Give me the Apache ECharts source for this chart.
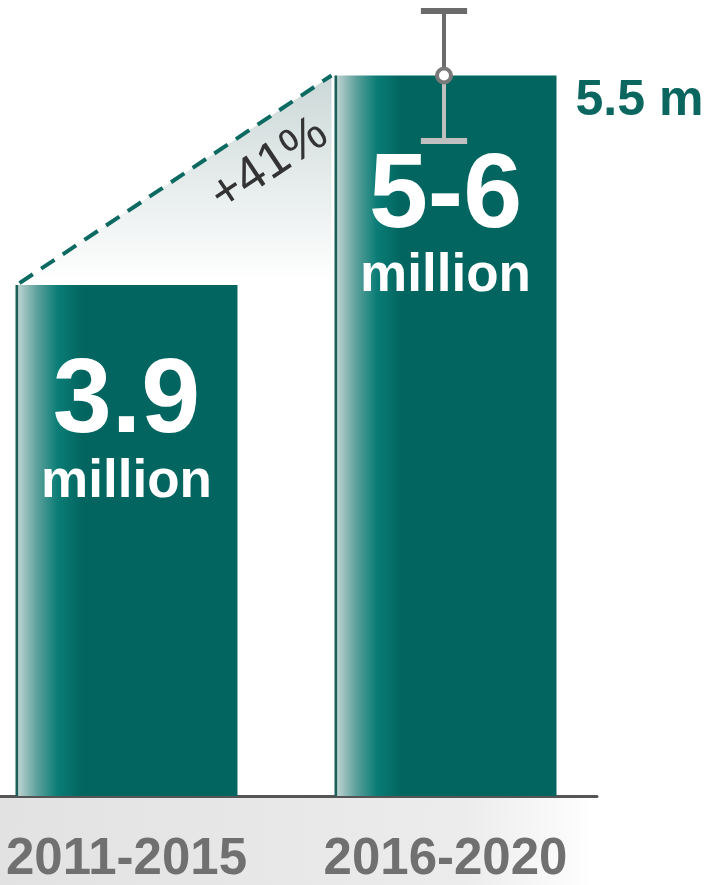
<!DOCTYPE html>
<html>
<head>
<meta charset="utf-8">
<script src="https://cdn.jsdelivr.net/npm/echarts@6/dist/echarts.min.js"></script>
<style>
html,body{margin:0;padding:0;background:#fff;}
#chart{width:708px;height:885px;}
</style>
</head>
<body>
<div id="chart"></div>
<script>
const categories = ['2011-2015', '2016-2020'];
const values = [3.9, 5.5];
const valueLabels = ['3.9', '5-6'];
const unitLabel = 'million';
const rangeData = [[1, 5, 6, 5.5]];      // [category, low, high, mid]
const midLabel = '5.5 m';
const growthData = [[0, 3.9, 1, 5.5]];   // [from cat, from value, to cat, to value]
const growthLabel = '+41%';

const FONT = "'Liberation Sans',Arial,sans-serif";
const HALF = 111 / 319; // half bar width as share of category step

const chart = echarts.init(document.getElementById('chart'), null, {renderer: 'canvas'});

chart.setOption({
  animation: false,
  backgroundColor: '#ffffff',
  grid: {left: 0, right: 111, top: 10, bottom: 89, containLabel: false},
  graphic: [{
    type: 'rect', z: -10,
    shape: {x: 0, y: 797, width: 597, height: 88},
    style: {fill: {type: 'linear', x: 0, y: 0, x2: 1, y2: 0.15, colorStops: [
      {offset: 0, color: '#e2e2e2'}, {offset: 0.78, color: '#ececec'}, {offset: 1, color: '#ffffff'}]}}
  }],
  xAxis: {
    type: 'value', min: -126.5 / 319, max: 470.5 / 319,
    splitLine: {show: false},
    axisLine: {show: true, onZero: false, lineStyle: {color: '#555555', width: 3}},
    axisTick: {show: false},
    axisLabel: {
      customValues: categories.map(function (c, i) { return i; }),
      formatter: function (v) { return categories[Math.round(v)] || ''; },
      color: '#707070', fontSize: 51, fontWeight: 'bold', fontFamily: FONT, margin: 38
    }
  },
  yAxis: {type: 'value', min: 0, max: 6, show: false, splitLine: {show: false}},
  series: [
    {
      type: 'custom', z: 1,
      encode: {x: [0, 2], y: [1, 3]},
      data: growthData,
      renderItem: function (params, api) {
        const p0 = api.coord([api.value(0), api.value(1)]);
        const p1 = api.coord([api.value(2), api.value(3)]);
        const half = api.size([1, 0])[0] * HALF;
        const a = [p0[0] - half + 4, p0[1] - 2];
        const b = [p1[0] - half - 3, p1[1]];
        const ang = Math.atan2(a[1] - b[1], b[0] - a[0]);
        const t = 0.73;
        const px = a[0] + (b[0] - a[0]) * t + Math.sin(ang) * 40;
        const py = a[1] + (b[1] - a[1]) * t + Math.cos(ang) * 40;
        return {type: 'group', children: [
          {type: 'polygon', shape: {points: [a, b, [b[0], a[1]]]},
           style: {fill: {type: 'linear', x: 0, y: 0, x2: 0, y2: 1, colorStops: [
             {offset: 0, color: '#cbd8d7'}, {offset: 1, color: '#ffffff'}]}}},
          {type: 'line', shape: {x1: a[0], y1: a[1], x2: b[0], y2: b[1]},
           style: {stroke: '#0c6a63', lineWidth: 4, lineDash: [16, 10]}},
          {type: 'text', x: px, y: py, rotation: ang,
           style: {text: growthLabel, fill: '#333333', font: 'normal 50px ' + FONT, align: 'center', verticalAlign: 'middle'}}
        ]};
      }
    },
    {
      type: 'bar', z: 2, barWidth: 222,
      data: values.map(function (v, i) { return {value: [i, v], label: {distance: i === 0 ? 68 : 72}}; }),
      itemStyle: {color: {type: 'linear', x: 0, y: 0, x2: 1, y2: 0, colorStops: [
        {offset: 0, color: '#1a5f5a'}, {offset: 0.01, color: '#1a5f5a'},
        {offset: 0.014, color: '#b9d1cf'}, {offset: 0.1, color: '#5a9f9a'},
        {offset: 0.19, color: '#0a7d76'}, {offset: 0.3, color: '#03655f'}, {offset: 1, color: '#03655f'}]}},
      label: {
        show: true, position: 'insideTop',
        formatter: function (p) { return '{a|' + valueLabels[p.dataIndex] + '}\n{b|' + unitLabel + '}'; },
        rich: {
          a: {fontSize: 106, fontWeight: 'bold', color: '#ffffff', fontFamily: FONT, lineHeight: 100, align: 'center'},
          b: {fontSize: 53, fontWeight: 'bold', color: '#ffffff', fontFamily: FONT, lineHeight: 58, align: 'center'}
        }
      }
    },
    {
      type: 'custom', z: 3,
      encode: {x: 0, y: [1, 2]},
      data: rangeData,
      renderItem: function (params, api) {
        const cat = api.value(0);
        const lo = api.coord([cat, api.value(1)]);
        const hi = api.coord([cat, api.value(2)]);
        const mid = api.coord([cat, api.value(3)]);
        const step = api.size([1, 0])[0];
        const x = mid[0] - 1.5;
        const capW = step * 0.145;
        const barRight = mid[0] + step * HALF;
        return {type: 'group', children: [
          {type: 'line', shape: {x1: x, y1: hi[1], x2: x, y2: mid[1]}, style: {stroke: '#6b6b6b', lineWidth: 4}},
          {type: 'line', shape: {x1: x - capW / 2, y1: hi[1] + 1, x2: x + capW / 2, y2: hi[1] + 1}, style: {stroke: '#6b6b6b', lineWidth: 6}},
          {type: 'line', shape: {x1: x, y1: mid[1], x2: x, y2: lo[1]}, style: {stroke: '#bfbfbf', lineWidth: 4}},
          {type: 'line', shape: {x1: x - capW / 2, y1: lo[1], x2: x + capW / 2, y2: lo[1]}, style: {stroke: '#bfbfbf', lineWidth: 6}},
          {type: 'circle', shape: {cx: x, cy: mid[1], r: 7}, style: {fill: '#ffffff', stroke: '#7a7a7a', lineWidth: 4}},
          {type: 'text', x: barRight + 19, y: mid[1] + 26,
           style: {text: midLabel, fill: '#0b665f', font: 'bold 50px ' + FONT, align: 'left', verticalAlign: 'middle'}}
        ]};
      }
    }
  ]
});
</script>
</body>
</html>
